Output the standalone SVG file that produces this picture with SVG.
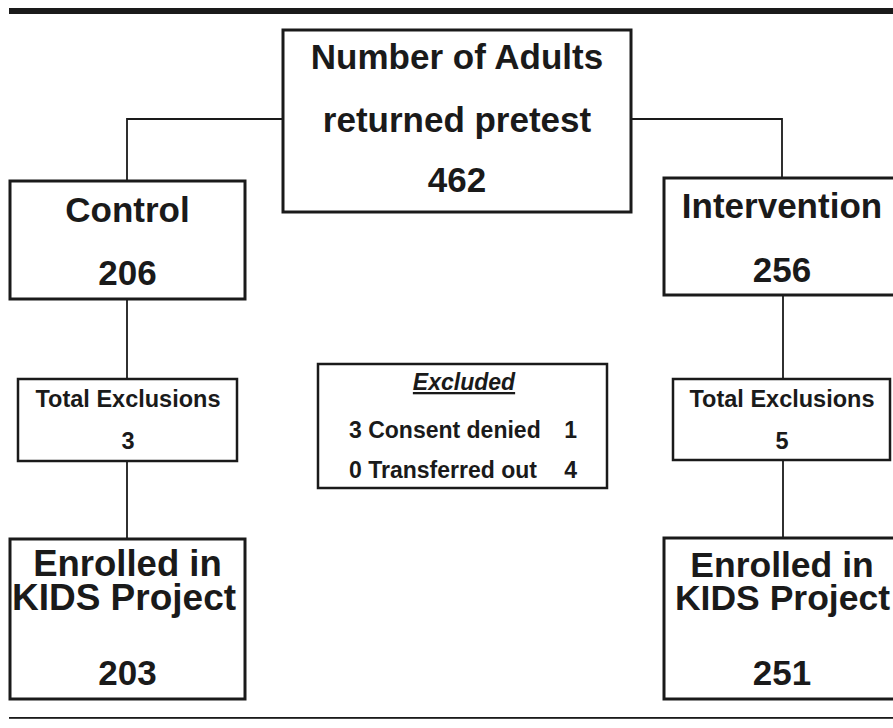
<svg xmlns="http://www.w3.org/2000/svg" width="893" height="728" viewBox="0 0 893 728">
<style>
.box{fill:#fff;stroke:#1a1a1a;stroke-width:3}
.sbox{fill:#fff;stroke:#1a1a1a;stroke-width:2.5}
.conn{fill:none;stroke:#1a1a1a;stroke-width:1.8}
text{font-family:"Liberation Sans",Arial,sans-serif;font-weight:bold;fill:#1a1a1a;text-anchor:middle}
.big{font-size:35px}
.sm{font-size:23.5px}
.ex{font-size:23px}
</style>
<rect x="0" y="0" width="893" height="728" fill="#fff"/>
<rect x="9" y="8" width="884" height="6" fill="#1a1a1a"/>
<rect x="9" y="717" width="884" height="1.8" fill="#1a1a1a"/>
<g id="connectors">
<polyline class="conn" points="283,119 127,119 127,181"/>
<polyline class="conn" points="631,119 782,119 782,178"/>
<line class="conn" x1="127" y1="299" x2="127" y2="379"/>
<line class="conn" x1="127" y1="461" x2="127" y2="539"/>
<line class="conn" x1="783" y1="295" x2="783" y2="379"/>
<line class="conn" x1="783" y1="460" x2="783" y2="538"/>
</g>
<g id="node-total">
<rect class="box" x="283" y="30" width="348" height="182"/>
<text class="big" x="457" y="69">Number of Adults</text>
<text class="big" x="457" y="132">returned pretest</text>
<text class="big" x="457" y="192">462</text>
</g>
<g id="node-control">
<rect class="box" x="10" y="181" width="235" height="118"/>
<text class="big" x="127.5" y="222">Control</text>
<text class="big" x="127.5" y="285">206</text>
</g>
<g id="node-intervention">
<rect class="box" x="664" y="178" width="232" height="117"/>
<text class="big" x="782" y="218">Intervention</text>
<text class="big" x="782" y="282">256</text>
</g>
<g id="node-excl-control">
<rect class="sbox" x="18" y="379" width="219" height="82"/>
<text class="sm" x="128" y="407">Total Exclusions</text>
<text class="sm" x="128" y="449">3</text>
</g>
<g id="node-excl-intervention">
<rect class="sbox" x="673" y="379" width="217" height="81"/>
<text class="sm" x="782" y="407">Total Exclusions</text>
<text class="sm" x="782" y="449">5</text>
</g>
<g id="node-excluded">
<rect class="sbox" x="318" y="364" width="289" height="124"/>
<text class="ex" x="464" y="390" font-style="italic" text-decoration="underline">Excluded</text>
<text class="ex" x="349" y="438" style="text-anchor:start">3 Consent denied</text>
<text class="ex" x="577" y="438" style="text-anchor:end">1</text>
<text class="ex" x="349" y="478" style="text-anchor:start">0 Transferred out</text>
<text class="ex" x="577" y="478" style="text-anchor:end">4</text>
</g>
<g id="node-enrolled-control">
<rect class="box" x="10" y="539" width="235" height="160"/>
<text x="127.5" y="576" style="font-size:36.5px">Enrolled in</text>
<text x="124" y="610" style="font-size:37px">KIDS Project</text>
<text class="big" x="127.5" y="685">203</text>
</g>
<g id="node-enrolled-intervention">
<rect class="box" x="664" y="538" width="232" height="161"/>
<text x="782" y="577" style="font-size:35.5px">Enrolled in</text>
<text x="782.5" y="610" style="font-size:35.5px">KIDS Project</text>
<text class="big" x="782" y="685">251</text>
</g>
</svg>
